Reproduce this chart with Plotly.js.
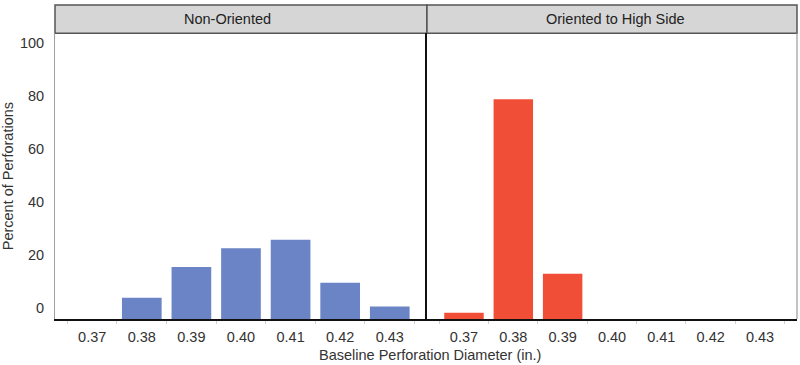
<!DOCTYPE html>
<html>
<head>
<meta charset="utf-8">
<script src="https://cdn.plot.ly/plotly-3.0.1.min.js"></script>
<style>
  html, body { margin: 0; padding: 0; background: #fff; }
  #chart { width: 800px; height: 365px; }
</style>
</head>
<body>
<div id="chart"></div>
<script>
// Data (percent of perforations, read against the y-axis labels)
const categories = ["0.37", "0.38", "0.39", "0.40", "0.41", "0.42", "0.43"];
const nonOriented = [null, 3.8, 15.5, 22.5, 25.8, 9.5, 0.5];
const orientedHighSide = [-1.8, 78.9, 12.9, null, null, null, null];
const panelTitles = ["Non-Oriented", "Oriented to High Side"];
const yTickVals = [0, 20, 40, 60, 80, 100];
const xTitle = "Baseline Perforation Diameter (in.)";
const yTitle = "Percent of Perforations";

const yMin = -4.2, yMax = 103.8;
const FONT = "Liberation Sans, Arial, Helvetica, sans-serif";
const FS = 14.5;
const split = 0.5013;
const stripBottom = 0.91;

function barTrace(vals, color, xa, ya) {
  return {
    type: "bar",
    x: categories,
    y: vals.map(v => v == null ? null : v - yMin),
    base: yMin,
    marker: { color: color, line: { width: 0 } },
    width: 0.8,
    xaxis: xa, yaxis: ya,
    hoverinfo: "x+text",
    text: vals.map(v => v == null ? "" : String(v)),
    textposition: "none",
    showlegend: false
  };
}

const xCommon = {
  type: "category",
  range: [-0.75, 6.75],
  showline: true, linecolor: "#111", linewidth: 1.5,
  ticks: "outside", tickson: "boundaries", ticklen: 3, tickcolor: "#d0d0d0", tickwidth: 1,
  ticklabelstandoff: 4,
  showgrid: false, zeroline: false,
  tickfont: { family: FONT, size: FS, color: "#333" },
  fixedrange: true
};

const layout = {
  width: 800, height: 365,
  margin: { l: 55, r: 3, t: 5, b: 45.5 },
  paper_bgcolor: "#fff", plot_bgcolor: "#fff",
  font: { family: FONT, size: FS, color: "#333" },
  bargap: 0.2,
  xaxis: Object.assign({}, xCommon, { domain: [0, split], anchor: "y" }),
  xaxis2: Object.assign({}, xCommon, { domain: [split, 1], anchor: "y2" }),
  yaxis: {
    domain: [0, stripBottom], range: [yMin, yMax], anchor: "x",
    tickvals: yTickVals, ticks: "", ticklabelstandoff: 7,
    showline: true, linecolor: "#a0a0a0", linewidth: 1,
    showgrid: false, zeroline: false,
    tickfont: { family: FONT, size: FS, color: "#333" },
    title: { text: yTitle, font: { family: FONT, size: FS, color: "#333" }, standoff: 7 },
    fixedrange: true
  },
  yaxis2: {
    domain: [0, stripBottom], range: [yMin, yMax], anchor: "x2",
    showticklabels: false, ticks: "",
    showline: true, linecolor: "#111", linewidth: 2,
    showgrid: false, zeroline: false, fixedrange: true
  },
  shapes: [
    // strips
    { type: "rect", xref: "paper", yref: "paper", x0: 0, x1: split, y0: stripBottom, y1: 1,
      fillcolor: "#d6d6d6", line: { color: "#555", width: 1.5 }, layer: "below" },
    { type: "rect", xref: "paper", yref: "paper", x0: split, x1: 1, y0: stripBottom, y1: 1,
      fillcolor: "#d6d6d6", line: { color: "#555", width: 1.5 }, layer: "below" },
    // right border of right panel
    { type: "line", xref: "paper", yref: "paper", x0: 1, x1: 1, y0: 0, y1: stripBottom,
      line: { color: "#9a9a9a", width: 1.2 } }
  ],
  annotations: [
    { xref: "paper", yref: "paper", x: 0.2327, y: 0.9555, text: panelTitles[0], showarrow: false,
      font: { family: FONT, size: FS, color: "#222" }, xanchor: "center", yanchor: "middle" },
    { xref: "paper", yref: "paper", x: 0.7554, y: 0.9555, text: panelTitles[1], showarrow: false,
      font: { family: FONT, size: FS, color: "#222" }, xanchor: "center", yanchor: "middle" },
    { xref: "paper", yref: "paper", x: (430 - 55) / 742, y: 0, yshift: -36, text: xTitle, showarrow: false,
      font: { family: FONT, size: FS, color: "#333" }, xanchor: "center", yanchor: "middle" }
  ]
};

const data = [
  barTrace(nonOriented, "#6a84c5", "x", "y"),
  barTrace(orientedHighSide, "#f04e37", "x2", "y2")
];

Plotly.newPlot("chart", data, layout, { displayModeBar: false, staticPlot: true });
</script>
</body>
</html>
